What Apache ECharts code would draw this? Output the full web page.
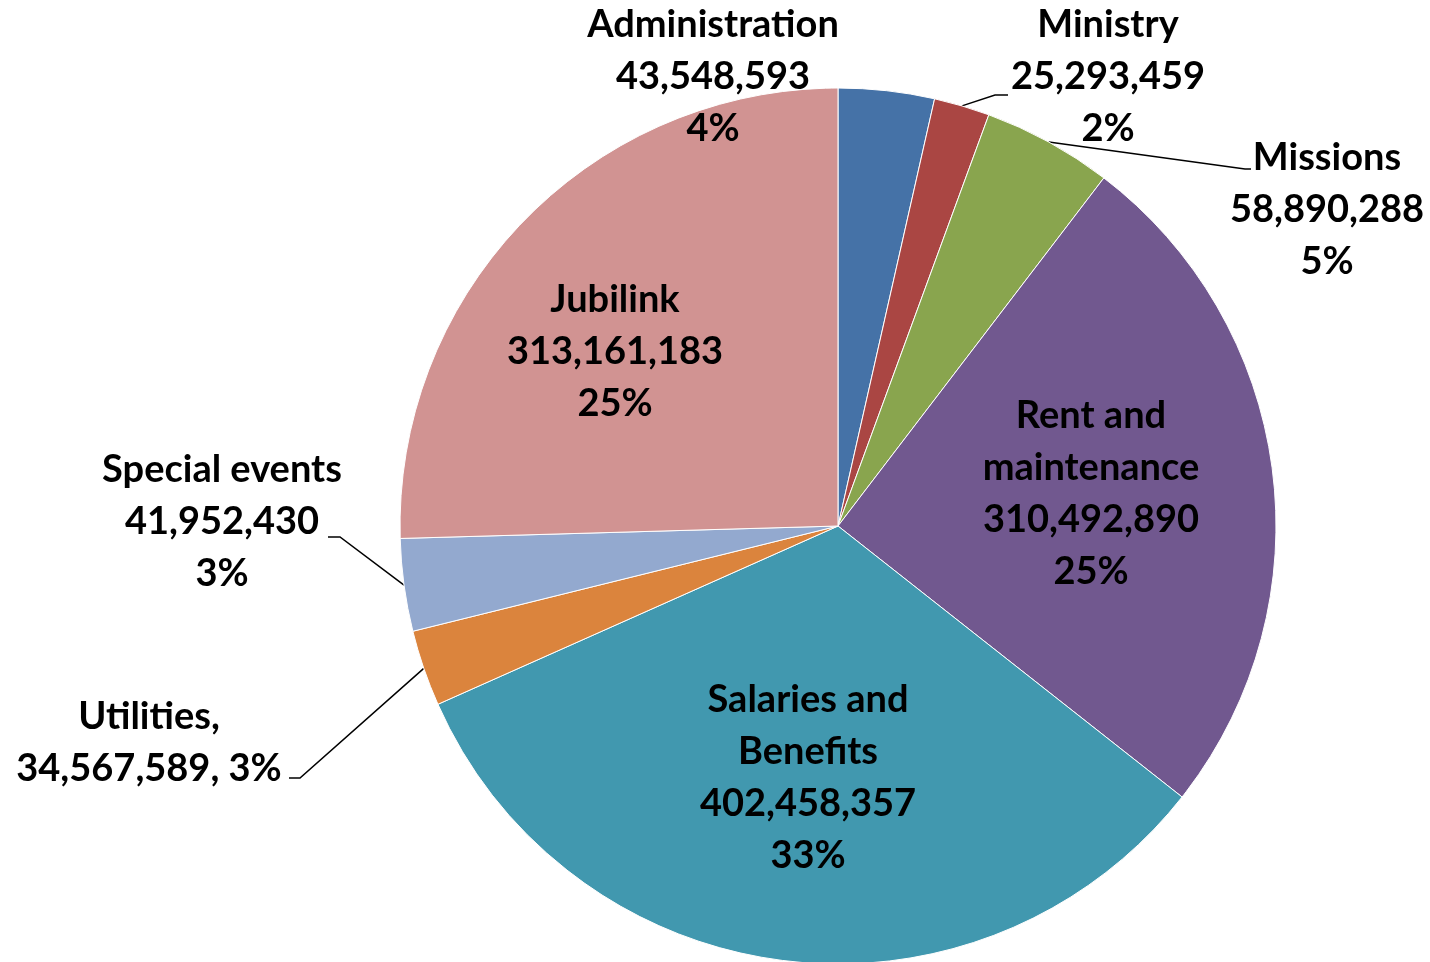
<!DOCTYPE html>
<html>
<head>
<meta charset="utf-8">
<script src="https://cdn.jsdelivr.net/npm/echarts@6/dist/echarts.min.js"></script>
<style>
html,body{margin:0;padding:0;background:#fff;}
#chart{width:1430px;height:962px;}
</style>
</head>
<body>
<div id="chart"></div>
<script>
// ---- data ----
var categories = ['Administration','Ministry','Missions','Rent and maintenance','Salaries and Benefits','Utilities','Special events','Jubilink'];
var labelNames = ['Administration','Ministry','Missions','Rent and\nmaintenance','Salaries and\nBenefits','Utilities,','Special events','Jubilink'];
var values = [43548593, 25293459, 58890288, 310492890, 402458357, 34567589, 41952430, 313161183];
var colors = ['#4572A7','#AA4643','#89A54E','#71588F','#4198AF','#DB843D','#93A9CF','#D19392'];

// ---- label layout (text placement and leader line bends) ----
var labelPlace = [
  {x:713, y:77, line:null},
  {x:1108, y:77, line:[[995,95],[1008,95]]},
  {x:1327, y:210, line:[[1245,169],[1251,169]]},
  {x:1091, y:494, line:null},
  {x:808, y:778, line:null},
  {x:149, y:743, line:[[300,778],[289,778]]},
  {x:222, y:522, line:[[340,537],[328,537]]},
  {x:615, y:352, line:null}
];

function fmt(n){ return n.toString().replace(/\B(?=(\d{3})+(?!\d))/g, ','); }

var data = categories.map(function(c,i){
  var item = {name:c, value:values[i], itemStyle:{color:colors[i]}};
  if(!labelPlace[i].line){ item.labelLine = {show:false}; }
  return item;
});

var chart = echarts.init(document.getElementById('chart'));
chart.setOption({
  animation:false,
  backgroundColor:'#ffffff',
  series:[{
    type:'pie',
    center:[838,526],
    radius:[0,438],
    startAngle:90,
    clockwise:true,
    avoidLabelOverlap:false,
    data:data,
    itemStyle:{borderColor:'#ffffff', borderWidth:1},
    label:{
      show:true,
      position:'outside',
      color:'#000',
      fontFamily:'Lato',
      fontWeight:'bold',
      fontSize:38,
      lineHeight:52,
      align:'center',
      formatter:function(p){
        var i = p.dataIndex;
        var pct = Math.round(p.percent) + '%';
        if(categories[i]==='Utilities'){
          return labelNames[i] + '\n' + fmt(p.value) + ', ' + pct;
        }
        return labelNames[i] + '\n' + fmt(p.value) + '\n' + pct;
      }
    },
    labelLine:{show:true, length:10, length2:10, lineStyle:{color:'#000', width:1.5}},
    labelLayout:function(p){
      var lp = labelPlace[p.dataIndex];
      var res = {x:lp.x, y:lp.y, align:'center', verticalAlign:'middle'};
      if(lp.line && p.labelLinePoints){
        res.labelLinePoints = [p.labelLinePoints[0], lp.line[0], lp.line[1]];
      }
      return res;
    }
  }]
});
</script>
</body>
</html>
